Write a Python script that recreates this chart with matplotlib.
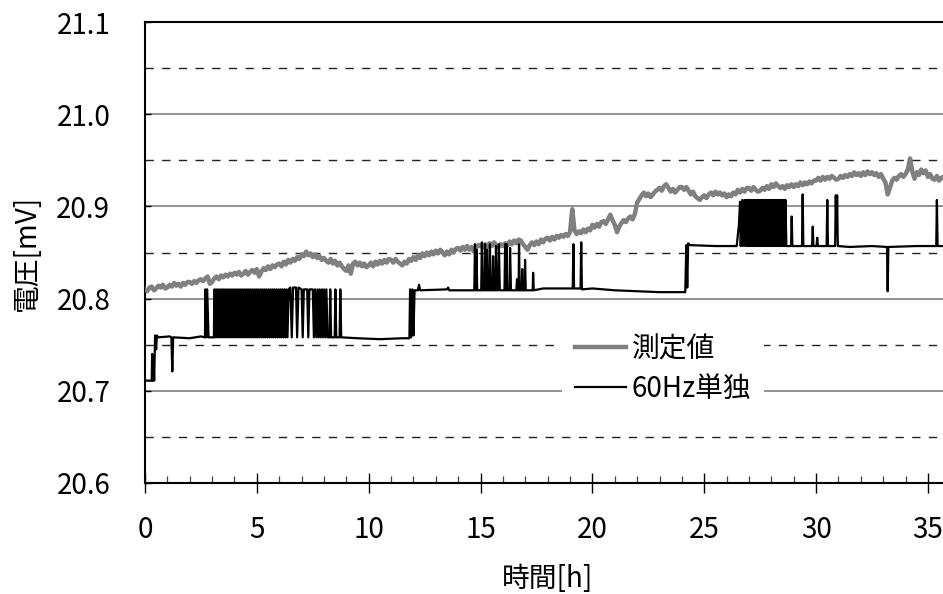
import numpy as np
import matplotlib
matplotlib.use('Agg')
import matplotlib.pyplot as plt
from matplotlib.ticker import MultipleLocator, FormatStrFormatter

plt.rcParams['font.family'] = ['Noto Sans CJK JP', 'DejaVu Sans']

# ---------------- data ----------------
x_label = '時間[h]'
y_label = '電圧[mV]'
series_names = ['測定値', '60Hz単独']
x_ticks = [0, 5, 10, 15, 20, 25, 30, 35]
y_ticks = [20.6, 20.7, 20.8, 20.9, 21.0, 21.1]

# 測定値: sampled every 0.1 h (one row per hour)
measured_step_h = 0.1
measured_v = [
    20.810, 20.808, 20.812, 20.813, 20.809, 20.811, 20.814, 20.812, 20.815, 20.811,
    20.812, 20.815, 20.813, 20.817, 20.814, 20.816, 20.813, 20.817, 20.815, 20.818,
    20.818, 20.816, 20.819, 20.817, 20.820, 20.821, 20.819, 20.822, 20.824, 20.816,
    20.818, 20.822, 20.824, 20.821, 20.825, 20.823, 20.826, 20.824, 20.827, 20.825,
    20.828, 20.826, 20.829, 20.825, 20.827, 20.830, 20.826, 20.829, 20.831, 20.828,
    20.832, 20.824, 20.829, 20.833, 20.831, 20.835, 20.832, 20.836, 20.834, 20.837,
    20.838, 20.835, 20.840, 20.837, 20.842, 20.839, 20.843, 20.841, 20.845, 20.843,
    20.848, 20.846, 20.851, 20.847, 20.849, 20.845, 20.848, 20.844, 20.846, 20.842,
    20.844, 20.841, 20.839, 20.843, 20.838, 20.841, 20.836, 20.839, 20.835, 20.832,
    20.830, 20.836, 20.827, 20.838, 20.840, 20.836, 20.839, 20.835, 20.838, 20.834,
    20.836, 20.839, 20.835, 20.840, 20.837, 20.841, 20.838, 20.842, 20.839, 20.843,
    20.842, 20.839, 20.843, 20.840, 20.838, 20.836, 20.840, 20.838, 20.843, 20.841,
    20.845, 20.842, 20.847, 20.844, 20.849, 20.846, 20.850, 20.847, 20.851, 20.848,
    20.852, 20.849, 20.853, 20.850, 20.847, 20.851, 20.848, 20.853, 20.850, 20.854,
    20.855, 20.852, 20.856, 20.853, 20.857, 20.853, 20.856, 20.851, 20.855, 20.858,
    20.858, 20.855, 20.859, 20.856, 20.860, 20.857, 20.861, 20.858, 20.856, 20.859,
    20.857, 20.860, 20.858, 20.862, 20.859, 20.863, 20.860, 20.864, 20.863, 20.859,
    20.856, 20.853, 20.858, 20.861, 20.858, 20.862, 20.859, 20.864, 20.861, 20.865,
    20.866, 20.863, 20.867, 20.864, 20.868, 20.866, 20.869, 20.867, 20.870, 20.868,
    20.872, 20.897, 20.874, 20.870, 20.873, 20.871, 20.875, 20.872, 20.876, 20.874,
    20.880, 20.877, 20.881, 20.878, 20.883, 20.884, 20.881, 20.886, 20.891, 20.885,
    20.880, 20.872, 20.878, 20.882, 20.885, 20.883, 20.887, 20.889, 20.886, 20.892,
    20.904, 20.908, 20.912, 20.915, 20.911, 20.914, 20.910, 20.913, 20.916, 20.918,
    20.920, 20.917, 20.922, 20.924, 20.920, 20.916, 20.919, 20.915, 20.918, 20.921,
    20.921, 20.918, 20.921, 20.917, 20.913, 20.916, 20.911, 20.909, 20.907, 20.910,
    20.912, 20.909, 20.913, 20.915, 20.912, 20.916, 20.913, 20.915, 20.912, 20.914,
    20.910, 20.913, 20.911, 20.915, 20.913, 20.918, 20.915, 20.919, 20.916, 20.920,
    20.920, 20.917, 20.921, 20.918, 20.916, 20.917, 20.920, 20.918, 20.922, 20.919,
    20.924, 20.921, 20.925, 20.922, 20.920, 20.922, 20.919, 20.923, 20.921, 20.924,
    20.921, 20.924, 20.922, 20.926, 20.923, 20.926, 20.924, 20.927, 20.925, 20.928,
    20.928, 20.931, 20.928, 20.932, 20.929, 20.932, 20.930, 20.933, 20.931, 20.929,
    20.930, 20.933, 20.931, 20.934, 20.932, 20.935, 20.933, 20.937, 20.934, 20.936,
    20.933, 20.937, 20.934, 20.938, 20.935, 20.937, 20.934, 20.936, 20.932, 20.935,
    20.930, 20.926, 20.913, 20.920, 20.928, 20.931, 20.929, 20.933, 20.935, 20.932,
    20.935, 20.940, 20.952, 20.938, 20.930, 20.937, 20.934, 20.940, 20.936, 20.939,
    20.932, 20.935, 20.930, 20.929, 20.933, 20.928, 20.931, 20.932,
]

# 60Hz単独: (time [h], voltage [mV]) points
hz60_points = [
    (0.00, 20.711), (0.30, 20.711), (0.32, 20.740), (0.34, 20.711), (0.38, 20.735),
    (0.41, 20.711), (0.45, 20.760), (0.50, 20.745), (0.53, 20.760), (0.60, 20.758),
    (1.10, 20.759), (1.18, 20.758), (1.22, 20.721), (1.26, 20.758), (2.00, 20.757),
    (2.50, 20.759), (2.68, 20.758),
    (2.70, 20.810), (2.74, 20.758), (2.78, 20.810), (2.84, 20.758), (3.08, 20.758),
    (3.10, 20.810), (3.14, 20.758), (3.18, 20.810), (3.22, 20.758), (3.26, 20.810),
    (3.30, 20.758), (3.35, 20.810), (3.40, 20.758), (3.45, 20.810), (3.49, 20.758),
    (3.53, 20.810), (3.58, 20.758), (3.62, 20.810), (3.66, 20.758), (3.71, 20.810),
    (3.75, 20.758), (3.80, 20.810), (3.85, 20.758), (3.89, 20.810), (3.94, 20.758),
    (3.98, 20.810), (4.03, 20.758), (4.07, 20.810), (4.12, 20.758), (4.16, 20.810),
    (4.20, 20.758), (4.25, 20.810), (4.29, 20.758), (4.34, 20.810), (4.39, 20.758),
    (4.43, 20.810), (4.48, 20.758), (4.52, 20.810), (4.57, 20.758), (4.61, 20.810),
    (4.65, 20.758), (4.70, 20.810), (4.75, 20.758), (4.79, 20.810), (4.84, 20.758),
    (4.88, 20.810), (4.93, 20.758), (4.97, 20.810), (5.02, 20.758), (5.06, 20.810),
    (5.11, 20.758), (5.15, 20.810), (5.20, 20.758), (5.24, 20.810), (5.29, 20.758),
    (5.33, 20.810), (5.38, 20.758), (5.42, 20.810), (5.47, 20.758), (5.51, 20.810),
    (5.56, 20.758), (5.60, 20.810), (5.65, 20.758), (5.69, 20.810), (5.74, 20.758),
    (5.78, 20.810), (5.83, 20.758), (5.87, 20.810), (5.92, 20.758), (5.96, 20.810),
    (6.01, 20.758), (6.05, 20.810), (6.10, 20.758), (6.14, 20.810), (6.19, 20.758),
    (6.23, 20.810), (6.28, 20.758), (6.32, 20.810), (6.37, 20.758), (6.42, 20.810),
    (6.50, 20.812), (6.56, 20.758), (6.62, 20.812), (6.75, 20.812), (6.80, 20.758),
    (6.86, 20.812), (7.00, 20.810), (7.05, 20.758), (7.10, 20.810), (7.25, 20.810),
    (7.30, 20.758), (7.35, 20.810), (7.50, 20.810), (7.55, 20.758), (7.60, 20.810),
    (7.66, 20.758), (7.71, 20.810), (7.76, 20.758), (7.81, 20.810), (7.86, 20.758),
    (7.91, 20.810), (7.96, 20.758), (8.01, 20.810), (8.06, 20.758), (8.11, 20.810),
    (8.16, 20.758), (8.25, 20.758), (8.28, 20.810), (8.32, 20.758), (8.48, 20.758),
    (8.51, 20.810), (8.55, 20.758), (8.70, 20.758), (8.73, 20.810), (8.77, 20.758),
    (9.50, 20.757), (10.50, 20.756), (11.50, 20.757), (11.82, 20.757), (11.85, 20.810),
    (11.90, 20.758), (11.95, 20.810), (12.00, 20.760), (12.05, 20.809), (12.20, 20.809),
    (12.25, 20.815), (12.30, 20.809), (13.50, 20.810), (13.55, 20.812), (13.60, 20.809),
    (14.72, 20.809), (14.75, 20.859), (14.78, 20.809), (14.82, 20.853), (14.85, 20.809),
    (15.03, 20.809), (15.06, 20.861), (15.09, 20.809), (15.17, 20.809), (15.20, 20.859),
    (15.23, 20.809), (15.27, 20.809), (15.29, 20.853), (15.32, 20.809), (15.39, 20.809),
    (15.42, 20.859), (15.45, 20.809), (15.53, 20.809), (15.56, 20.846), (15.59, 20.809),
    (15.66, 20.809), (15.69, 20.857), (15.72, 20.809), (15.79, 20.809), (15.82, 20.859),
    (15.86, 20.809), (16.07, 20.809), (16.10, 20.859), (16.13, 20.809), (16.16, 20.859),
    (16.19, 20.809), (16.29, 20.809), (16.32, 20.855), (16.36, 20.809), (16.60, 20.809),
    (16.63, 20.821), (16.66, 20.809), (16.70, 20.809), (16.72, 20.859), (16.75, 20.809),
    (16.84, 20.809), (16.86, 20.832), (16.89, 20.809), (16.97, 20.809), (16.99, 20.842),
    (17.02, 20.809), (17.33, 20.809), (17.35, 20.828), (17.38, 20.809), (17.80, 20.811),
    (19.12, 20.811), (19.15, 20.859), (19.18, 20.811), (19.47, 20.811), (19.50, 20.861),
    (19.53, 20.810), (20.00, 20.811), (21.00, 20.809), (22.00, 20.808), (23.00, 20.807),
    (24.15, 20.807), (24.20, 20.858), (24.24, 20.812), (24.28, 20.860), (24.35, 20.858),
    (25.50, 20.857), (26.45, 20.857),
    (26.55, 20.880), (26.60, 20.905), (26.63, 20.857), (26.70, 20.907), (26.73, 20.857),
    (26.80, 20.907), (26.83, 20.857), (26.88, 20.907), (26.92, 20.857), (26.95, 20.907),
    (26.99, 20.857), (27.03, 20.907), (27.07, 20.857), (27.11, 20.907), (27.15, 20.857),
    (27.19, 20.907), (27.23, 20.857), (27.27, 20.907), (27.31, 20.857), (27.35, 20.907),
    (27.39, 20.857), (27.43, 20.907), (27.47, 20.857), (27.51, 20.907), (27.55, 20.857),
    (27.59, 20.907), (27.63, 20.857), (27.67, 20.907), (27.71, 20.857), (27.75, 20.907),
    (27.79, 20.857), (27.83, 20.907), (27.87, 20.857), (27.91, 20.907), (27.95, 20.857),
    (27.99, 20.907), (28.03, 20.857), (28.07, 20.907), (28.11, 20.857), (28.15, 20.907),
    (28.19, 20.857), (28.23, 20.907), (28.27, 20.857), (28.31, 20.907), (28.35, 20.857),
    (28.39, 20.907), (28.43, 20.857), (28.47, 20.907), (28.51, 20.857), (28.55, 20.907),
    (28.59, 20.857), (28.63, 20.907), (28.67, 20.857),
    (28.88, 20.857), (28.91, 20.889), (28.94, 20.857), (29.37, 20.857), (29.40, 20.913),
    (29.43, 20.857), (29.82, 20.857), (29.85, 20.878), (29.88, 20.857), (30.02, 20.857),
    (30.05, 20.866), (30.08, 20.857), (30.47, 20.857), (30.50, 20.907), (30.53, 20.857),
    (30.85, 20.857), (30.88, 20.912), (30.91, 20.870), (30.94, 20.912), (30.97, 20.857),
    (31.50, 20.856), (32.50, 20.857), (33.17, 20.856), (33.20, 20.808), (33.23, 20.856),
    (34.50, 20.857), (35.37, 20.857), (35.40, 20.907), (35.43, 20.857), (35.70, 20.857),
]

# ---------------- plot ----------------
W, H = 943, 594
fig = plt.figure(figsize=(W / 100, H / 100), dpi=100)
ax_left, ax_top, ax_bottom = 145, 22, 483
px_per_h = 22.37
x_max = 36
ax_w_px = x_max * px_per_h
ax = fig.add_axes([ax_left / W, (H - ax_bottom) / H,
                   ax_w_px / W, (ax_bottom - ax_top) / H])

measured_t = np.arange(len(measured_v)) * measured_step_h
hz_t = [p[0] for p in hz60_points]
hz_v = [p[1] for p in hz60_points]

l1, = ax.plot(measured_t, measured_v, color='#808080', lw=3.2, zorder=3,
              solid_joinstyle='round')
l2, = ax.plot(hz_t, hz_v, color='black', lw=1.6, zorder=4)

ax.set_xlim(0, x_max)
ax.set_ylim(20.6, 21.1)
ax.set_xticks(x_ticks)
ax.xaxis.set_minor_locator(MultipleLocator(1))
ax.set_yticks(y_ticks)
ax.yaxis.set_minor_locator(MultipleLocator(0.05))
ax.yaxis.set_major_formatter(FormatStrFormatter('%.1f'))

ax.grid(axis='y', which='major', color='#7f7f7f', lw=1.2, ls='-', zorder=1)
ax.grid(axis='y', which='minor', color='#222222', lw=1.0, ls=(0, (6, 6)), zorder=1)
ax.set_axisbelow(True)

for side in ['left', 'top', 'bottom', 'right']:
    ax.spines[side].set_color('black')
    ax.spines[side].set_linewidth(1.5)

ax.tick_params(axis='x', which='major', direction='inout', length=14, width=1.0,
               labelsize=20, pad=16, colors='black')
ax.tick_params(axis='x', which='minor', direction='in', length=5, width=0.9,
               color='#444444')
ax.tick_params(axis='y', which='major', direction='in', length=4, width=1.0,
               labelsize=20, pad=25)
ax.tick_params(axis='y', which='minor', length=0)

ax.set_xlabel(x_label, fontsize=20, labelpad=14)
ax.set_ylabel(y_label, fontsize=20)
ax.yaxis.set_label_coords(-(ax_left - 42) / ax_w_px, 0.5)

leg = ax.legend([l1, l2], series_names, loc='center',
                bbox_to_anchor=(663 / W, (H - 369) / H), bbox_transform=fig.transFigure,
                fontsize=20, frameon=True, fancybox=False, framealpha=1,
                facecolor='white', edgecolor='none', handlelength=1.85,
                handletextpad=0.2, labelspacing=0.35, borderpad=0.45)
leg.set_zorder(10)

fig.savefig('out.png', dpi=100)
